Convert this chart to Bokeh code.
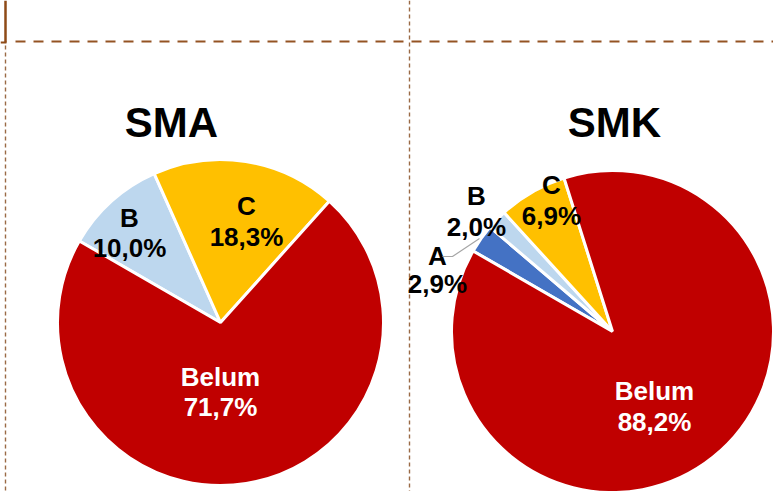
from bokeh.plotting import figure
from bokeh.models import Range1d, ColumnDataSource
from bokeh.core.properties import value
from bokeh.embed import file_html
from bokeh.resources import INLINE
import math

# ---- data ----
categories = ["A", "B", "C", "Belum"]
sma_values = [0.0, 10.0, 18.3, 71.7]
smk_values = [2.9, 2.0, 6.9, 88.2]
slice_colors = ["#4472C4", "#BDD7EE", "#FFC000", "#C00000"]
titles = ["SMA", "SMK"]

W, H = 773, 491
FONT = value("Liberation Sans")

p = figure(width=W, height=H, output_backend="svg", toolbar_location=None,
           x_range=Range1d(0, W), y_range=Range1d(0, H), min_border=0)
p.axis.visible = False
p.grid.visible = False
p.outline_line_color = None
p.background_fill_color = "white"
p.border_fill_color = "white"


def Y(y):
    return H - y


BROWN = "#8E4A17"
# decorations
p.line([5, 5], [Y(0), Y(42)], line_color=BROWN, line_width=2.5)
p.line([0, 6], [Y(42), Y(42)], line_color=BROWN, line_width=2)
p.line([15, W], [Y(41), Y(41)], line_color=BROWN, line_width=2.2,
       line_dash="10 8", line_alpha=0.95)
p.line([5, 5], [Y(45), Y(H)], line_color="#9A6A45", line_width=1.4,
       line_dash="4 3")
p.line([409, 409], [Y(0), Y(H)], line_color="#9A6A45", line_width=1.4,
       line_dash="4 3")

START = 300.0  # first slice angle, clockwise from 12 o'clock


def draw_pie(values, cx, cy, r, label_pos, title_pos, title):
    total = sum(values)
    c0 = START
    xs, ys, sa, ea, cols = [], [], [], [], []
    for v, col in zip(values, slice_colors):
        if v <= 0:
            continue
        c1 = c0 + v / total * 360.0
        sa.append(math.radians(90 - c1))
        ea.append(math.radians(90 - c0))
        xs.append(cx)
        ys.append(Y(cy))
        cols.append(col)
        c0 = c1
    src = ColumnDataSource(dict(x=xs, y=ys, sa=sa, ea=ea, c=cols))
    p.wedge(x="x", y="y", radius=r, start_angle="sa", end_angle="ea",
            direction="anticlock", fill_color="c", line_color="white",
            line_width=3, source=src)
    # labels
    for cat, v in zip(categories, values):
        if v <= 0:
            continue
        lx, ly, gap = label_pos[cat]
        color = "white" if cat == "Belum" else "black"
        pct = f"{v:.1f}".replace(".", ",") + "%"
        p.text(x=[lx, lx], y=[Y(ly), Y(ly + gap)], text=[cat, pct],
               text_font=FONT, text_font_style="bold", text_font_size="26px",
               text_color=color, text_align="center",
               text_baseline="alphabetic")
    p.text(x=[title_pos[0]], y=[Y(title_pos[1])], text=[title],
           text_font=FONT, text_font_style="bold", text_font_size="42px",
           text_color="black", text_align="center",
           text_baseline="alphabetic")


draw_pie(sma_values, 220, 322, 163,
         {"B": (129, 217, 30), "C": (246, 205, 31), "Belum": (220, 376, 30)},
         (171, 122), titles[0])
draw_pie(smk_values, 612, 331, 161,
         {"A": (437, 255, 28), "B": (476, 195, 31), "C": (551, 184, 31),
          "Belum": (654, 390, 31)},
         (614, 122), titles[1])

# leader line for SMK "A"
p.line([442, 452, 479], [Y(256), Y(256), Y(238)], line_color="#A6A6A6",
       line_width=1.2)

open("out.html", "w").write(file_html(p, INLINE))
